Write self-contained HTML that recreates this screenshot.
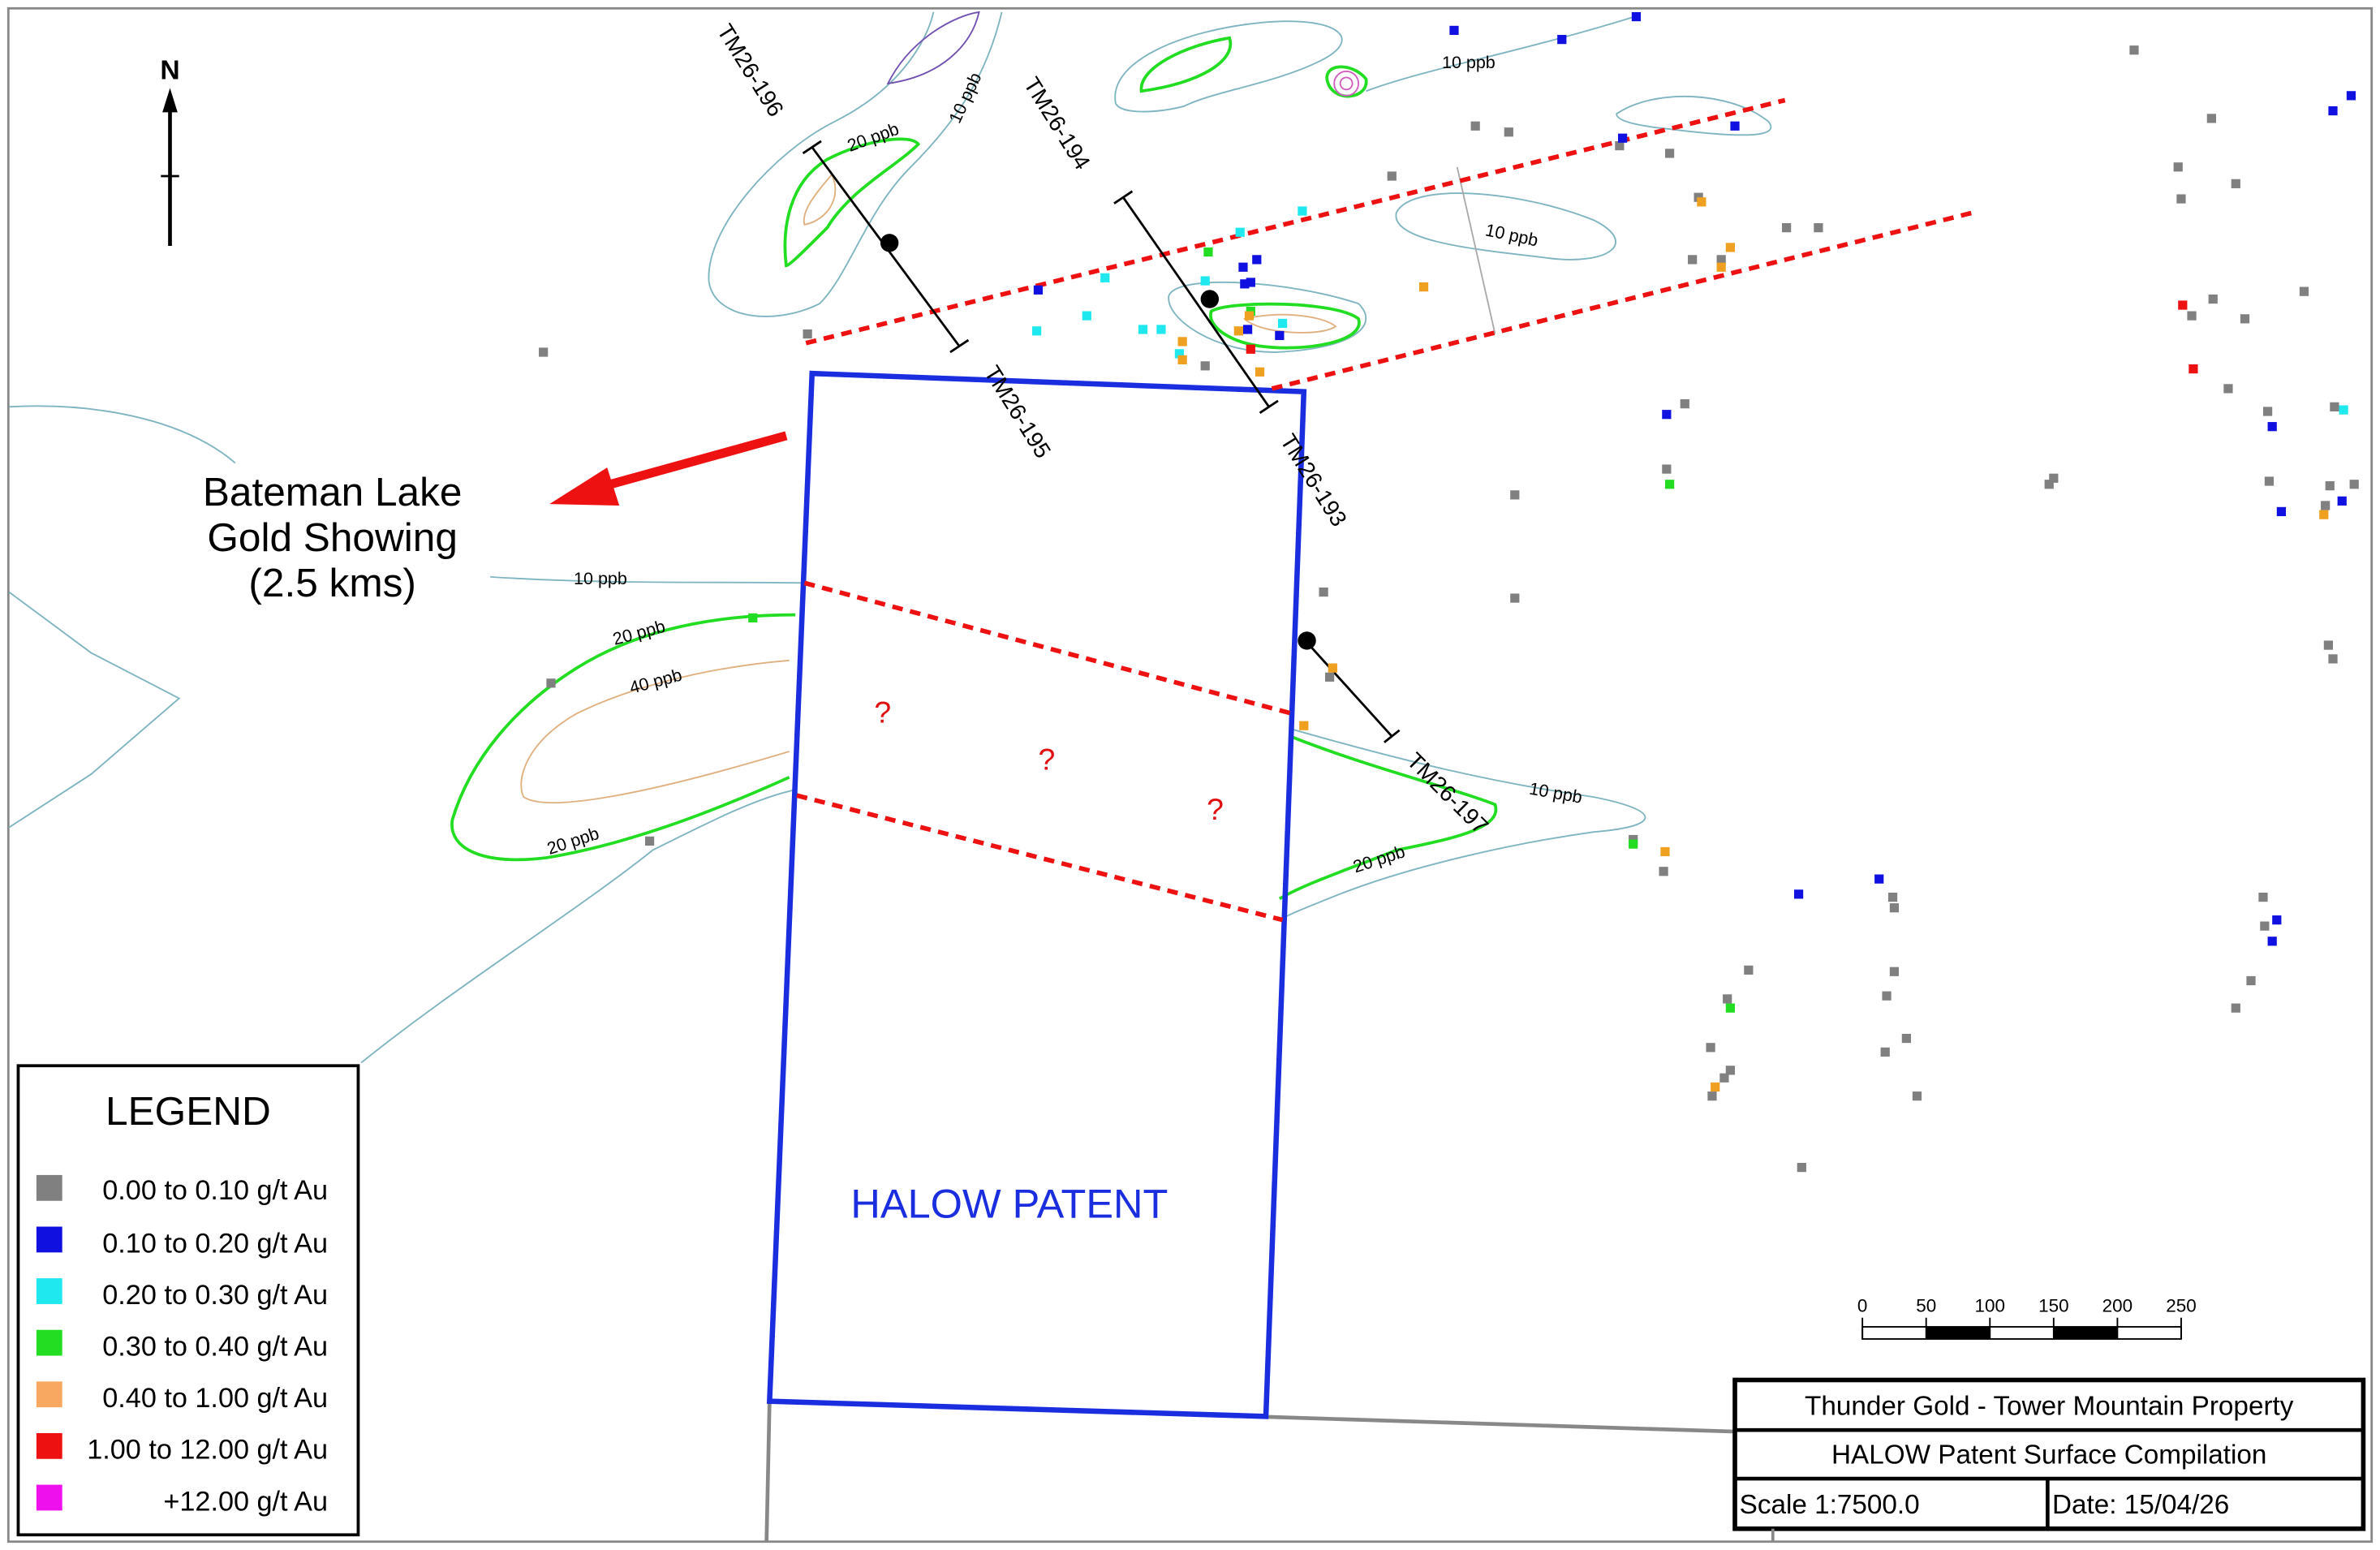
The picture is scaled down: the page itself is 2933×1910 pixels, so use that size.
<!DOCTYPE html>
<html><head><meta charset="utf-8"><style>
html,body{margin:0;padding:0;background:#fff;}
svg{display:block;}
text{font-family:"Liberation Sans",sans-serif;}
</style></head><body>
<svg width="2933" height="1910" viewBox="0 0 1568 1021" preserveAspectRatio="none" xmlns="http://www.w3.org/2000/svg">
<rect x="0" y="0" width="1568" height="1021" fill="#fff"/>
<rect x="5.5" y="5.5" width="1557" height="1010" fill="none" stroke="#888" stroke-width="1.5"/>

<g fill="none" stroke="#7fb5c0" stroke-width="1">
<path d="M6,268 C60,265 120,275 155,305"/>
<path d="M6,390 L60,430 L118,460 L60,510 L6,545"/>
<path d="M323,380 C400,385 470,383 530,384"/>
<path d="M238,700 C300,650 380,600 430,560 C470,540 500,525 525,520"/>
<path d="M660,8 C650,50 630,80 600,110 C570,140 560,180 540,200 C510,215 470,210 467,185 C465,150 510,100 550,80 C590,60 610,30 615,8"/>
<path d="M735,68 C730,40 780,20 830,15 C880,10 900,25 870,40 C840,55 800,60 780,70 C760,75 738,75 735,68 Z"/>
<path d="M900,60 C940,45 1000,35 1080,10"/>
<path d="M1065,75 C1090,58 1140,60 1165,80 C1175,92 1140,90 1100,85 C1080,83 1065,80 1065,75 Z"/>
<path d="M920,140 C930,120 1000,125 1050,145 C1080,160 1060,175 1020,170 C980,165 915,160 920,140 Z"/>
<path d="M770,195 C775,180 850,185 895,200 C910,215 890,230 840,232 C800,232 768,210 770,195 Z"/>
<path d="M850,480 C920,500 980,515 1050,525 C1100,535 1090,545 1050,548 C1000,555 930,570 880,590 C860,598 850,602 845,605"/>
<path d="M960,110 L985,220" stroke="#aaa"/>
</g>
<g fill="none" stroke="#22dd22" stroke-width="2">
<path d="M524,405 C470,405 420,415 380,440 C340,465 310,500 298,540 C295,560 320,570 360,565 C420,555 480,530 520,512"/>
<path d="M605,95 C590,110 560,125 545,150 C530,165 520,175 518,175 C515,150 520,120 545,105 C570,92 600,88 605,95 Z"/>
<path d="M752,60 C750,45 780,30 810,25 C815,40 790,55 752,60 Z"/>
<path d="M875,55 C870,42 890,40 900,52 C902,65 880,68 875,55 Z"/>
<path d="M798,205 C810,198 880,198 895,210 C900,225 860,232 830,228 C810,225 795,215 798,205 Z"/>
<path d="M850,485 C900,505 960,520 985,530 C990,545 960,552 920,560 C890,572 860,582 843,592"/>
</g>
<g fill="none" stroke="#e0b080" stroke-width="1">
<path d="M520,435 C460,440 410,455 380,470 C345,490 340,515 345,525 C360,535 420,525 520,495"/>
<path d="M548,115 C535,130 528,140 530,148 C545,145 555,130 548,115 Z"/>
<path d="M820,210 C840,205 870,207 880,215 C870,222 830,220 820,210 Z"/>
</g>
<path d="M585,55 C600,25 630,10 645,8 C640,30 620,50 585,55 Z" fill="none" stroke="#7050b0" stroke-width="1"/>
<circle cx="887" cy="55" r="8" fill="none" stroke="#d060c0" stroke-width="1"/>
<circle cx="887" cy="55" r="4" fill="none" stroke="#d060c0" stroke-width="1"/>

<g font-size="11.5" fill="#000">
<text x="378" y="385">10 ppb</text>
<text x="405" y="425" transform="rotate(-15 405 425)">20 ppb</text>
<text x="416" y="457" transform="rotate(-15 416 457)">40 ppb</text>
<text x="362" y="563" transform="rotate(-18 362 563)">20 ppb</text>
<text x="560" y="100" transform="rotate(-20 560 100)">20 ppb</text>
<text x="632" y="82" transform="rotate(-65 632 82)">10 ppb</text>
<text x="950" y="45">10 ppb</text>
<text x="978" y="155" transform="rotate(12 978 155)">10 ppb</text>
<text x="1007" y="523" transform="rotate(10 1007 523)">10 ppb</text>
<text x="893" y="575" transform="rotate(-18 893 575)">20 ppb</text>
</g>

<g stroke="#888" stroke-width="2.5" fill="none">
<path d="M507,923 L1143,943"/>
<path d="M507,923 L505,1016"/>
</g>

<path d="M535,246 L859,258 L834,933 L507,923 Z" fill="none" stroke="#1a2ee0" stroke-width="3.5"/>

<g stroke="#ee1111" stroke-width="3" stroke-dasharray="7,5" fill="none">
<path d="M531,226 L1176,66"/>
<path d="M838,256 L1300,140"/>
<path d="M530,384 L851,470"/>
<path d="M525,524 L845,606"/>
</g>
<g fill="#e01010" font-size="20">
<text x="576" y="476">?</text>
<text x="684" y="507">?</text>
<text x="795" y="540">?</text>
</g>

<g stroke="#000" stroke-width="1.5" fill="none">
<path d="M535,97 L632,228"/><path d="M529,101 L541,93"/><path d="M626,232 L638,224"/>
<path d="M740,130 L836,268"/><path d="M734,134 L746,126"/><path d="M830,272 L842,264"/>
<path d="M860,422 L917,485"/><path d="M912,489 L922,481"/>
</g>
<g fill="#000">
<circle cx="586" cy="160" r="6"/><circle cx="797" cy="197" r="6"/><circle cx="861" cy="422" r="6"/>
</g>
<g font-size="15" fill="#000">
<text x="472" y="20" transform="rotate(58 472 20)">TM26-196</text>
<text x="674" y="55" transform="rotate(58 674 55)">TM26-194</text>
<text x="648" y="245" transform="rotate(58 648 245)">TM26-195</text>
<text x="843" y="290" transform="rotate(58 843 290)">TM26-193</text>
<text x="926" y="502" transform="rotate(45 926 502)">TM26-197</text>
</g>

<g fill="#808080">
<rect x="355" y="229" width="6" height="6"/><rect x="529" y="217" width="6" height="6"/>
<rect x="360" y="447" width="6" height="6"/><rect x="425" y="551" width="6" height="6"/>
<rect x="1403" y="30" width="6" height="6"/><rect x="969" y="80" width="6" height="6"/>
<rect x="991" y="84" width="6" height="6"/><rect x="1064" y="93" width="6" height="6"/>
<rect x="1097" y="98" width="6" height="6"/><rect x="914" y="113" width="6" height="6"/>
<rect x="1116" y="127" width="6" height="6"/><rect x="1174" y="147" width="6" height="6"/>
<rect x="1195" y="147" width="6" height="6"/><rect x="1112" y="168" width="6" height="6"/>
<rect x="1131" y="168" width="6" height="6"/><rect x="1454" y="75" width="6" height="6"/>
<rect x="1432" y="107" width="6" height="6"/><rect x="1434" y="128" width="6" height="6"/>
<rect x="1470" y="118" width="6" height="6"/><rect x="1515" y="189" width="6" height="6"/>
<rect x="1455" y="194" width="6" height="6"/><rect x="1441" y="205" width="6" height="6"/>
<rect x="1476" y="207" width="6" height="6"/><rect x="1465" y="253" width="6" height="6"/>
<rect x="1491" y="268" width="6" height="6"/><rect x="1535" y="265" width="6" height="6"/>
<rect x="1107" y="263" width="6" height="6"/><rect x="1095" y="306" width="6" height="6"/>
<rect x="995" y="323" width="6" height="6"/><rect x="995" y="391" width="6" height="6"/>
<rect x="869" y="387" width="6" height="6"/><rect x="873" y="443" width="6" height="6"/>
<rect x="1347" y="316" width="6" height="6"/><rect x="1350" y="312" width="6" height="6"/>
<rect x="1492" y="314" width="6" height="6"/><rect x="1532" y="317" width="6" height="6"/>
<rect x="1548" y="316" width="6" height="6"/><rect x="1529" y="330" width="6" height="6"/>
<rect x="1531" y="422" width="6" height="6"/><rect x="1534" y="431" width="6" height="6"/>
<rect x="1073" y="550" width="6" height="6"/><rect x="1093" y="571" width="6" height="6"/>
<rect x="1244" y="588" width="6" height="6"/><rect x="1245" y="595" width="6" height="6"/>
<rect x="1488" y="588" width="6" height="6"/><rect x="1489" y="607" width="6" height="6"/>
<rect x="1149" y="636" width="6" height="6"/><rect x="1245" y="637" width="6" height="6"/>
<rect x="1135" y="655" width="6" height="6"/><rect x="1240" y="653" width="6" height="6"/>
<rect x="1480" y="643" width="6" height="6"/><rect x="1470" y="661" width="6" height="6"/>
<rect x="1253" y="681" width="6" height="6"/><rect x="1124" y="687" width="6" height="6"/>
<rect x="1239" y="690" width="6" height="6"/><rect x="1137" y="702" width="6" height="6"/>
<rect x="1133" y="707" width="6" height="6"/><rect x="1125" y="719" width="6" height="6"/>
<rect x="1260" y="719" width="6" height="6"/><rect x="1184" y="766" width="6" height="6"/>
<rect x="791" y="238" width="6" height="6"/>
</g>
<g fill="#1010e0">
<rect x="955" y="17" width="6" height="6"/><rect x="1026" y="23" width="6" height="6"/>
<rect x="1075" y="8" width="6" height="6"/><rect x="1066" y="88" width="6" height="6"/>
<rect x="1140" y="80" width="6" height="6"/><rect x="1534" y="70" width="6" height="6"/>
<rect x="1546" y="60" width="6" height="6"/><rect x="681" y="188" width="6" height="6"/>
<rect x="816" y="173" width="6" height="6"/><rect x="821" y="183" width="6" height="6"/>
<rect x="817" y="184" width="6" height="6"/><rect x="825" y="168" width="6" height="6"/>
<rect x="819" y="214" width="6" height="6"/><rect x="840" y="218" width="6" height="6"/>
<rect x="1095" y="270" width="6" height="6"/><rect x="1494" y="278" width="6" height="6"/>
<rect x="1540" y="327" width="6" height="6"/><rect x="1500" y="334" width="6" height="6"/>
<rect x="1182" y="586" width="6" height="6"/><rect x="1235" y="576" width="6" height="6"/>
<rect x="1497" y="603" width="6" height="6"/><rect x="1494" y="617" width="6" height="6"/>
</g>
<g fill="#20e8ef">
<rect x="855" y="136" width="6" height="6"/><rect x="814" y="150" width="6" height="6"/>
<rect x="725" y="180" width="6" height="6"/><rect x="713" y="205" width="6" height="6"/>
<rect x="680" y="215" width="6" height="6"/><rect x="750" y="214" width="6" height="6"/>
<rect x="762" y="214" width="6" height="6"/><rect x="791" y="182" width="6" height="6"/>
<rect x="774" y="230" width="6" height="6"/><rect x="1541" y="267" width="6" height="6"/>
<rect x="842" y="210" width="6" height="6"/>
</g>
<g fill="#22dd22">
<rect x="793" y="163" width="6" height="6"/><rect x="821" y="202" width="6" height="6"/>
<rect x="493" y="404" width="6" height="6"/><rect x="1097" y="316" width="6" height="6"/>
<rect x="1073" y="553" width="6" height="6"/><rect x="1137" y="661" width="6" height="6"/>
</g>
<g fill="#f0a020">
<rect x="776" y="222" width="6" height="6"/><rect x="776" y="234" width="6" height="6"/>
<rect x="813" y="215" width="6" height="6"/><rect x="827" y="242" width="6" height="6"/>
<rect x="935" y="186" width="6" height="6"/><rect x="1118" y="130" width="6" height="6"/>
<rect x="1137" y="160" width="6" height="6"/><rect x="1131" y="173" width="6" height="6"/>
<rect x="856" y="475" width="6" height="6"/><rect x="875" y="437" width="6" height="6"/>
<rect x="1094" y="558" width="6" height="6"/><rect x="1528" y="336" width="6" height="6"/>
<rect x="1127" y="713" width="6" height="6"/><rect x="820" y="205" width="6" height="6"/>
</g>
<g fill="#ee1111">
<rect x="1435" y="198" width="6" height="6"/><rect x="1442" y="240" width="6" height="6"/>
<rect x="821" y="227" width="6" height="6"/>
</g>

<path d="M518,287 L395,321" stroke="#ee1111" stroke-width="6"/>
<path d="M362,332 L400,308 L408,333 Z" fill="#ee1111"/>
<g font-size="26.5" fill="#000" text-anchor="middle">
<text x="219" y="333">Bateman Lake</text>
<text x="219" y="363">Gold Showing</text>
<text x="219" y="393">(2.5 kms)</text>
</g>

<text x="112" y="52" font-size="18" font-weight="bold" text-anchor="middle">N</text>
<path d="M112,70 L112,162" stroke="#000" stroke-width="2.5"/>
<path d="M112,58 L107,74 L117,74 Z" fill="#000"/>
<path d="M106,116 L118,116" stroke="#000" stroke-width="1.5"/>

<text x="665" y="802" font-size="27" fill="#1a2ee0" text-anchor="middle">HALOW PATENT</text>

<rect x="12" y="702" width="224" height="309" fill="#fff" stroke="#000" stroke-width="2"/>
<text x="124" y="741" font-size="26.5" text-anchor="middle">LEGEND</text>
<g font-size="18.3" fill="#000" text-anchor="end">
<rect x="24" y="774" width="17" height="17" fill="#808080"/><text x="216" y="790">0.00 to 0.10 g/t Au</text>
<rect x="24" y="808" width="17" height="17" fill="#1010e0"/><text x="216" y="825">0.10 to 0.20 g/t Au</text>
<rect x="24" y="842" width="17" height="17" fill="#20e8ef"/><text x="216" y="859">0.20 to 0.30 g/t Au</text>
<rect x="24" y="876" width="17" height="17" fill="#22dd22"/><text x="216" y="893">0.30 to 0.40 g/t Au</text>
<rect x="24" y="910" width="17" height="17" fill="#f8a860"/><text x="216" y="927">0.40 to 1.00 g/t Au</text>
<rect x="24" y="944" width="17" height="17" fill="#ee1111"/><text x="216" y="961">1.00 to 12.00 g/t Au</text>
<rect x="24" y="978" width="17" height="17" fill="#ee11ee"/><text x="216" y="995">+12.00 g/t Au</text>
</g>

<g font-size="12" text-anchor="middle">
<text x="1227" y="864">0</text><text x="1269" y="864">50</text><text x="1311" y="864">100</text>
<text x="1353" y="864">150</text><text x="1395" y="864">200</text><text x="1437" y="864">250</text>
</g>
<rect x="1227" y="874" width="210" height="8" fill="#fff" stroke="#000" stroke-width="1"/>
<rect x="1269" y="874" width="42" height="8" fill="#000"/>
<rect x="1353" y="874" width="42" height="8" fill="#000"/>
<g stroke="#000" stroke-width="1"><path d="M1227,868 V882 M1269,868 V882 M1311,868 V882 M1353,868 V882 M1395,868 V882 M1437,868 V882"/></g>

<rect x="1143" y="909" width="414" height="98" fill="#fff" stroke="#000" stroke-width="3"/>
<path d="M1143,942 H1557 M1143,974 H1557 M1349,974 V1007" stroke="#000" stroke-width="2.5"/>
<g font-size="17.8" fill="#000">
<text x="1350" y="932" text-anchor="middle">Thunder Gold - Tower Mountain Property</text>
<text x="1350" y="964" text-anchor="middle">HALOW Patent Surface Compilation</text>
<text x="1146" y="997">Scale 1:7500.0</text>
<text x="1352" y="997">Date: 15/04/26</text>
</g>
<path d="M1168,1007 V1016" stroke="#888" stroke-width="2"/>
</svg>
</body></html>
